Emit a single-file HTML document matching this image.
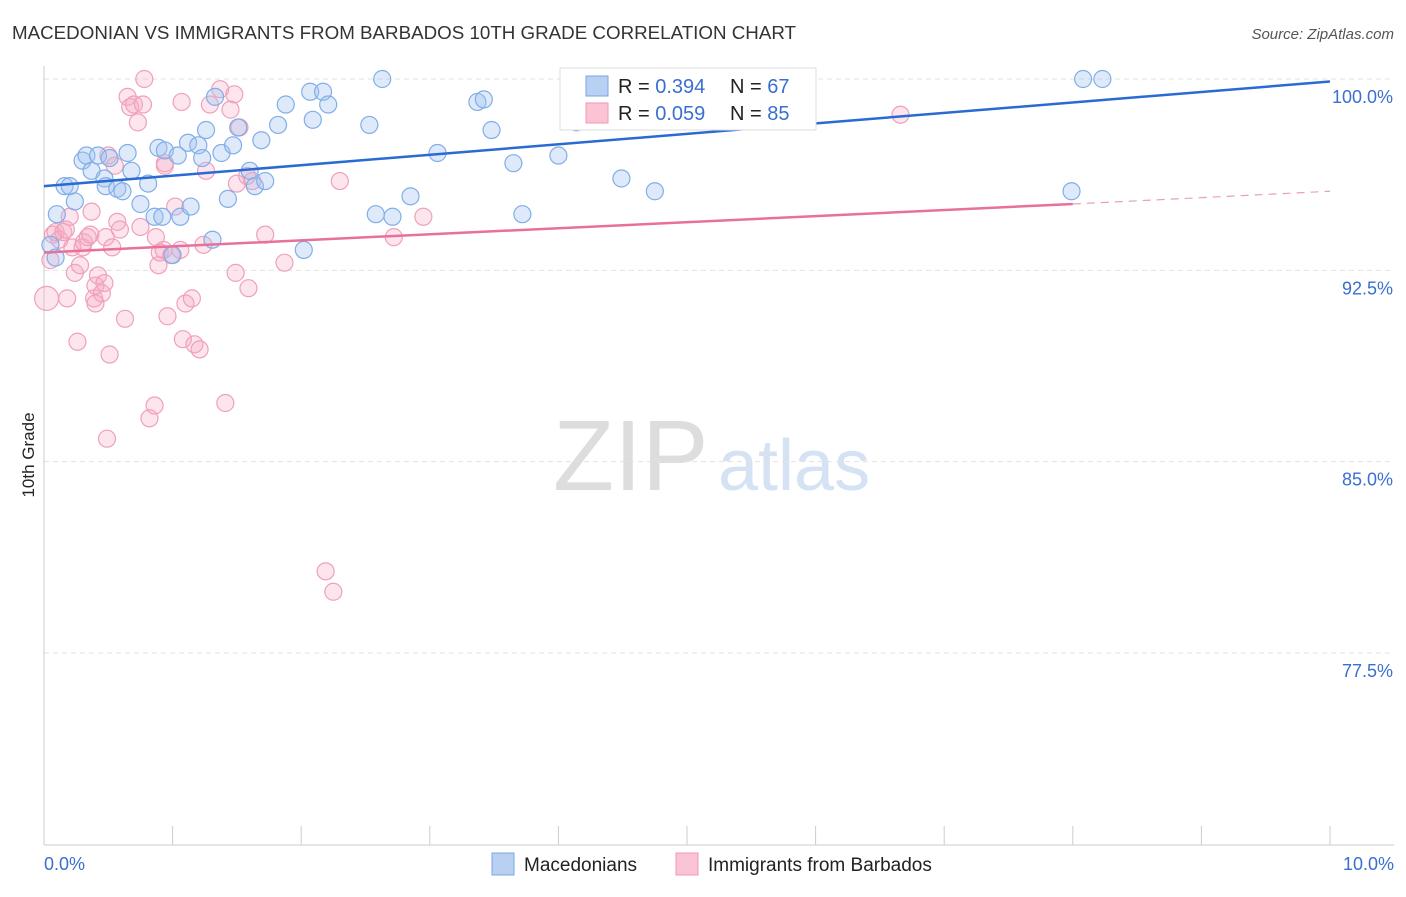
<!DOCTYPE html>
<html><head><meta charset="utf-8"><style>
body{margin:0;background:#fff;font-family:"Liberation Sans",sans-serif;}
svg text{font-family:"Liberation Sans",sans-serif;}
</style></head><body>
<svg id="chart" width="1406" height="892" viewBox="0 0 1406 892">
<text x="12" y="39" font-size="18" fill="#333" textLength="784" lengthAdjust="spacingAndGlyphs">MACEDONIAN VS IMMIGRANTS FROM BARBADOS 10TH GRADE CORRELATION CHART</text>
<text x="1394" y="39" font-size="15" fill="#555" text-anchor="end" font-style="italic">Source: ZipAtlas.com</text>
<text x="553" y="490" font-size="100" fill="#ddd" font-family="Liberation Serif">ZIP</text>
<text x="718" y="490" font-size="72" fill="#d4e2f3">atlas</text>
<text transform="translate(34,455) rotate(-90)" font-size="17" fill="#222" text-anchor="middle">10th Grade</text>
<g id="grid"></g><g id="axes"></g><g id="pts"></g><g id="lines"></g>
<g>
<rect x="560" y="68" width="256" height="62" fill="#fff" stroke="#ddd"/>
<rect x="586" y="76" width="22" height="20" fill="#b8d0f2" stroke="#7aa6e6"/>
<rect x="586" y="103" width="22" height="20" fill="#fac4d4" stroke="#ef9ab5"/>
<text x="618" y="93" font-size="20" fill="#222">R = <tspan fill="#3a6fd0">0.394</tspan></text>
<text x="730" y="93" font-size="20" fill="#222">N = <tspan fill="#3a6fd0">67</tspan></text>
<text x="618" y="120" font-size="20" fill="#222">R = <tspan fill="#3a6fd0">0.059</tspan></text>
<text x="730" y="120" font-size="20" fill="#222">N = <tspan fill="#3a6fd0">85</tspan></text>
</g>
<g>
<rect x="492" y="853" width="22" height="22" fill="#b8d0f2" stroke="#7aa6e6"/>
<text x="524" y="871" font-size="19" fill="#222">Macedonians</text>
<rect x="676" y="853" width="22" height="22" fill="#fac4d4" stroke="#ef9ab5"/>
<text x="708" y="871" font-size="19" fill="#222">Immigrants from Barbados</text>
</g>
</svg>
<script>
const yTicks=[100,92.5,85,77.5];
const yTickLabels=["100.0%","92.5%","85.0%","77.5%"];
const blueX=[0.10,0.05,0.09,0.16,0.20,0.24,0.30,0.33,0.37,0.42,0.47,0.48,0.51,0.57,0.61,0.65,0.68,0.75,0.81,0.86,0.89,0.94,0.92,1.00,1.04,1.06,1.12,1.14,1.20,1.23,1.26,1.31,1.33,1.38,1.43,1.47,1.51,1.60,1.64,1.69,1.72,1.82,1.88,2.02,2.07,2.09,2.17,2.21,2.53,2.58,2.63,2.71,2.85,3.06,3.37,3.42,3.48,3.65,3.72,4.00,4.15,4.14,4.49,4.75,8.08,8.23,7.99];
const blueY=[94.7,93.5,93.0,95.8,95.8,95.2,96.8,97.0,96.4,97.0,96.1,95.8,96.9,95.7,95.6,97.1,96.4,95.1,95.9,94.6,97.3,97.2,94.6,93.1,97.0,94.6,97.5,95.0,97.4,96.9,98.0,93.7,99.3,97.1,95.3,97.4,98.1,96.4,95.8,97.6,96.0,98.2,99.0,93.3,99.5,98.4,99.5,99.0,98.2,94.7,100.0,94.6,95.4,97.1,99.1,99.2,98.0,96.7,94.7,97.0,100.0,98.3,96.1,95.6,100.0,100.0,95.6];
const pinkX=[0.02,0.05,0.07,0.09,0.12,0.15,0.17,0.20,0.22,0.24,0.28,0.30,0.31,0.34,0.36,0.37,0.39,0.40,0.42,0.45,0.47,0.48,0.50,0.51,0.53,0.55,0.57,0.59,0.63,0.65,0.67,0.70,0.73,0.75,0.77,0.78,0.82,0.86,0.87,0.89,0.90,0.93,0.94,0.96,0.99,1.02,1.06,1.07,1.08,1.10,1.15,1.17,1.21,1.24,1.26,1.29,1.37,1.41,1.45,1.48,1.49,1.50,1.52,1.58,1.59,1.62,1.72,1.87,2.19,2.25,2.30,2.72,2.95,6.66,0.26,0.49,0.18,0.40,0.94];
const pinkY=[91.4,92.9,93.9,94.0,93.7,94.0,94.1,94.6,93.4,92.4,92.7,93.4,93.6,93.8,93.9,94.8,91.4,91.9,92.3,91.6,92.0,93.8,97.0,89.2,93.4,96.6,94.4,94.1,90.6,99.3,98.9,99.0,98.3,94.2,99.0,100.0,86.7,87.2,93.8,92.7,93.2,93.3,96.7,90.7,93.1,95.0,93.3,99.1,89.8,91.2,91.4,89.6,89.4,93.5,96.4,99.0,99.6,87.3,98.8,99.4,92.4,95.9,98.1,96.2,91.8,96.0,93.9,92.8,80.7,79.9,96.0,93.8,94.6,98.6,89.7,85.9,91.4,91.2,96.6];
const blueFit=[95.8,99.9];
const pinkFit=[93.2,95.1,95.6];
const NS="http://www.w3.org/2000/svg";
const sx=v=>44+v*128.6, sy=v=>79+(100-v)*25.51;
function mk(t,a,p){const e=document.createElementNS(NS,t);for(const k in a)e.setAttribute(k,a[k]);p.appendChild(e);return e;}
const grid=document.getElementById('grid'),axes=document.getElementById('axes'),pts=document.getElementById('pts'),lines=document.getElementById('lines');
yTicks.forEach((t,i)=>{
 const l=mk('line',{x1:44,x2:1394,y1:sy(t),y2:sy(t),stroke:'#e2e2e2','stroke-dasharray':'5,4'},grid);
 
 
 const tx=mk('text',{x:1393,y:sy(t)+24,'font-size':18,fill:'#3a6fd0','text-anchor':'end'},axes);
 tx.textContent=yTickLabels[i];
 
 
});
const ya=mk('line',{x1:44,x2:44,y1:66,y2:845,stroke:'#ccc'},axes);


const xa=mk('line',{x1:44,x2:1394,y1:845,y2:845,stroke:'#ccc'},axes);


for(let i=0;i<=10;i++){const tk=mk('line',{x1:sx(i),x2:sx(i),y1:826,y2:845,stroke:'#ccc'},axes);
 
 }
const xl0=mk('text',{x:44,y:870,'font-size':18,fill:'#3a6fd0'},axes);xl0.textContent='0.0%';


const xl1=mk('text',{x:1394,y:870,'font-size':18,fill:'#3a6fd0','text-anchor':'end'},axes);xl1.textContent='10.0%';


pinkX.forEach((x,i)=>{const c=mk('circle',{cx:sx(x),cy:sy(pinkY[i]),r:i==0?12:8.5,fill:'rgba(246,170,195,0.3)',stroke:'#f0a0bb','stroke-width':1.2},pts);
 
 });
blueX.forEach((x,i)=>{const c=mk('circle',{cx:sx(x),cy:sy(blueY[i]),r:8.5,fill:'rgba(160,195,240,0.35)',stroke:'#80aee8','stroke-width':1.2},pts);
 
 });
const bl=mk('line',{x1:sx(0),y1:sy(blueFit[0]),x2:sx(10),y2:sy(blueFit[1]),stroke:'#2a6ad3','stroke-width':2.5},lines);


const pl=mk('line',{x1:sx(0),y1:sy(pinkFit[0]),x2:sx(8),y2:sy(pinkFit[1]),stroke:'#e8709a','stroke-width':2.5},lines);


const pd=mk('line',{x1:sx(8),y1:sy(pinkFit[1]),x2:sx(10),y2:sy(pinkFit[2]),stroke:'#e8a0b8','stroke-width':1.2,'stroke-dasharray':'8,6'},lines);


</script>
</body></html>
